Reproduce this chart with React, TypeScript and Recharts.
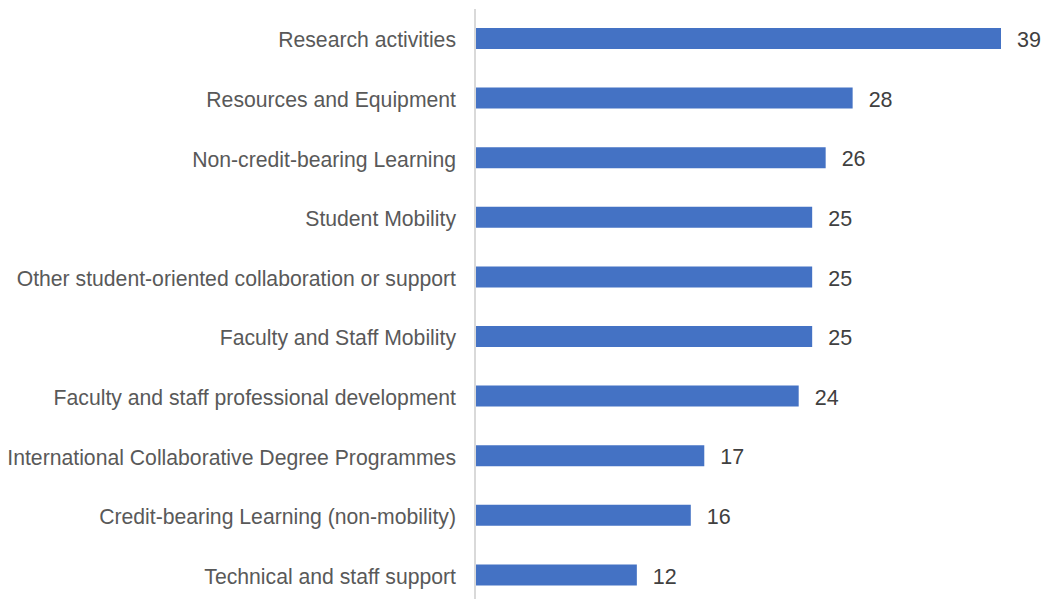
import { BarChart, Bar, XAxis, YAxis, LabelList } from "recharts";

const categories = [
  "Research activities",
  "Resources and Equipment",
  "Non-credit-bearing Learning",
  "Student Mobility",
  "Other student-oriented collaboration or support",
  "Faculty and Staff Mobility",
  "Faculty and staff professional development",
  "International Collaborative Degree Programmes",
  "Credit-bearing Learning (non-mobility)",
  "Technical and staff support",
];

const counts = [39, 28, 26, 25, 25, 25, 24, 17, 16, 12];

const data = categories.map((name, i) => ({ name, value: counts[i] }));

const font = "'Liberation Sans', Arial, sans-serif";

export default function App() {
  return (
    <div
      style={{
        position: "absolute",
        left: 0,
        top: 0,
        width: 1046,
        height: 599,
        overflow: "hidden",
        background: "#fff",
        fontFamily: font,
      }}
    >
      <BarChart
        layout="vertical"
        width={1046}
        height={610}
        data={data}
        margin={{ top: 9, right: 45, bottom: 5, left: 0 }}
      >
        <XAxis type="number" domain={[0, 39]} hide />
        <YAxis
          type="category"
          dataKey="name"
          width={475}
          tickLine={false}
          tickMargin={13}
          axisLine={{ stroke: "#d9d9d9", strokeWidth: 2 }}
          tick={{ fill: "#595959", fontSize: 21.2, fontFamily: font, dy: 1 }}
          interval={0}
        />
        <Bar dataKey="value" fill="#4472c4" barSize={21} isAnimationActive={false}>
          <LabelList
            dataKey="value"
            position="right"
            offset={16}
            fill="#404040"
            fontSize={21.5}
            fontFamily={font}
            dy={1}
          />
        </Bar>
      </BarChart>
    </div>
  );
}
